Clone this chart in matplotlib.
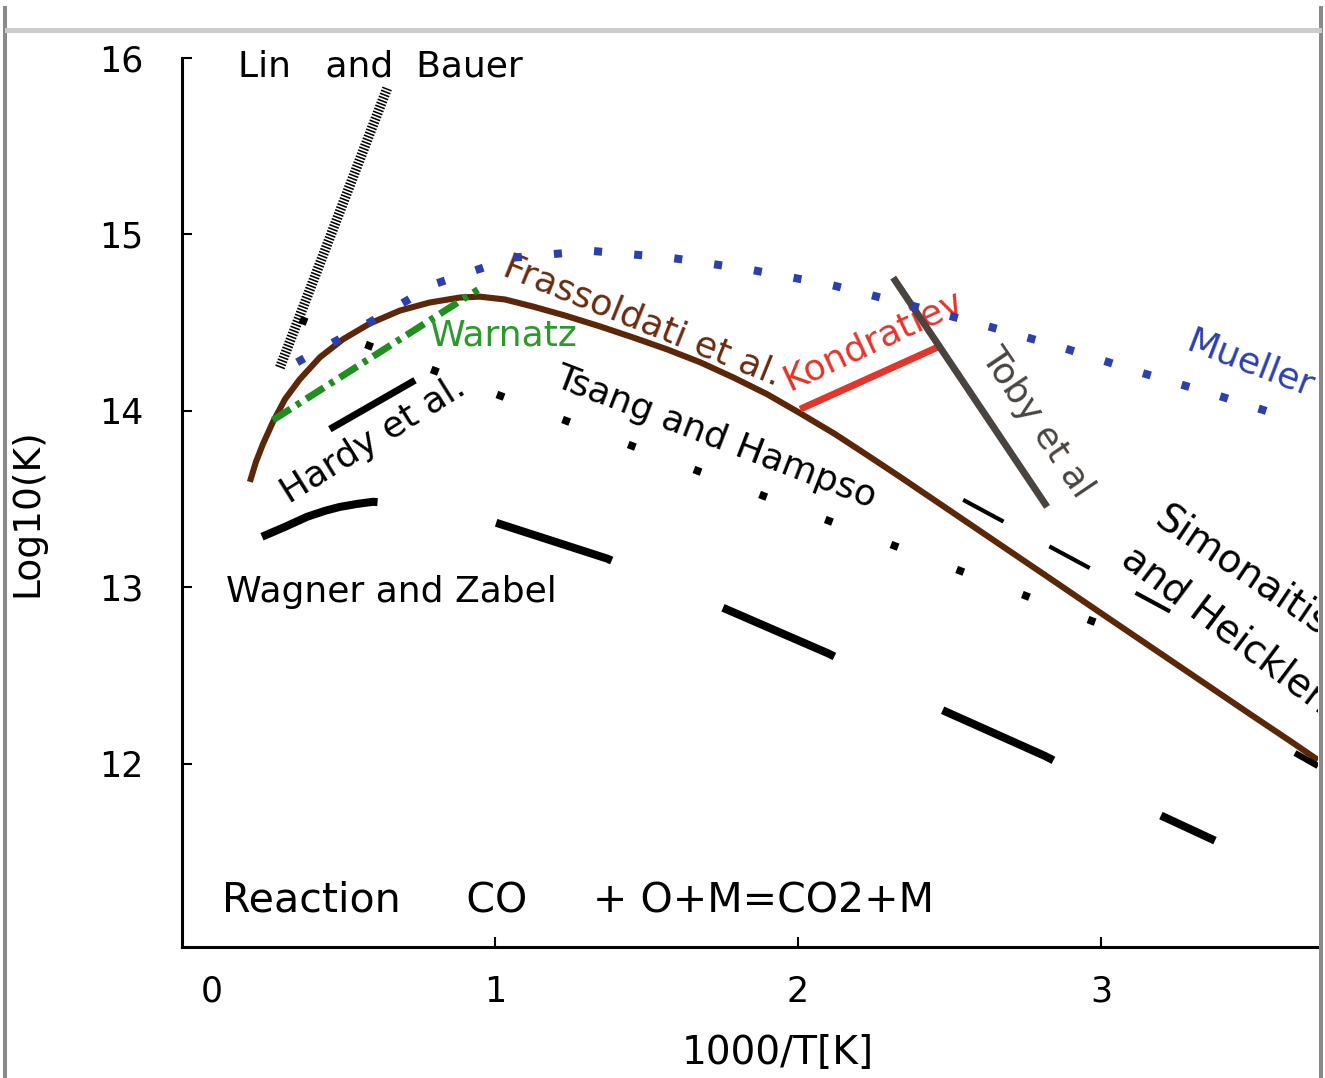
import matplotlib
matplotlib.use("Agg")
import matplotlib.pyplot as plt
from matplotlib.lines import Line2D

plt.rcParams['font.family'] = ['DejaVu Sans']

# Frassoldati et al. (brown curve)
fr_x = [0.191, 0.211, 0.234, 0.267, 0.307, 0.356, 0.422, 0.498, 0.587, 0.686,
        0.785, 0.884, 0.950, 1.033, 1.125, 1.231, 1.347, 1.455, 1.568, 1.677,
        1.785, 1.898, 2.007, 2.122, 2.228, 2.337, 2.502, 2.667, 2.832, 2.997,
        3.162, 3.327, 3.492, 3.624, 3.716]
fr_y = [13.597, 13.710, 13.811, 13.936, 14.066, 14.179, 14.303, 14.405, 14.495, 14.568,
        14.614, 14.642, 14.647, 14.631, 14.591, 14.540, 14.478, 14.416, 14.348, 14.275,
        14.190, 14.094, 13.986, 13.868, 13.749, 13.625, 13.433, 13.241, 13.049, 12.856,
        12.664, 12.472, 12.280, 12.128, 12.020]

# Mueller (blue dotted)
mu_x = [0.347, 0.574, 0.805, 1.059, 1.314, 1.578, 1.842, 2.106, 2.363, 2.617,
        2.871, 3.129, 3.383, 3.640]
mu_y = [14.275, 14.489, 14.721, 14.868, 14.907, 14.868, 14.800, 14.715, 14.602, 14.484,
        14.359, 14.218, 14.088, 13.947]

# Wagner and Zabel (long dashes)
wz_x = [0.231, 0.307, 0.380, 0.439, 0.488, 0.545, 0.597, 0.802, 0.993, 1.370,
        1.743, 2.099, 2.462, 2.815, 3.178, 3.376]
wz_y = [13.286, 13.342, 13.399, 13.433, 13.455, 13.472, 13.484, 13.455, 13.371, 13.162,
        12.890, 12.625, 12.314, 12.043, 11.721, 11.563]

# straight-line data sets
lb_x, lb_y = [0.290, 0.644], [14.245, 15.828]      # Lin and Bauer
ts_x, ts_y = [0.356, 3.172], [14.518, 12.676]      # Tsang and Hampson
wa_x, wa_y = [0.267, 0.944], [13.947, 14.687]      # Warnatz
ha_x, ha_y = [0.455, 0.736], [13.896, 14.173]      # Hardy et al.
sh_x, sh_y = [2.545, 3.228], [13.495, 12.862]      # Simonaitis and Heicklen
sh2_x, sh2_y = [3.640, 3.716], [12.060, 11.986]
tb_x, tb_y = [2.314, 2.822], [14.755, 13.455]      # Toby et al
ko_x, ko_y = [2.007, 2.459], [14.009, 14.359]      # Kondratiev

xtick_pos = [0.066, 1, 2, 3]
xtick_lab = ['0', '1', '2', '3']
ytick_pos = [12, 13, 14, 15, 16]

fig = plt.figure(figsize=(13.25, 10.78), dpi=100)
ax = fig.add_axes([182 / 1325, 1 - 947 / 1078, (1318 - 182) / 1325, (947 - 58) / 1078])
ax.set_xlim(-0.033, 3.716)
ax.set_ylim(10.96, 16.0)

brown = '#5c2608'
ax.plot(fr_x, fr_y, color=brown, lw=4.4, zorder=2, solid_capstyle='butt', solid_joinstyle='round')
ax.plot(lb_x, lb_y, color='black', lw=7.2, ls=(0, (0.16, 0.16)), dash_capstyle='butt', zorder=3)
ax.plot(wa_x, wa_y, color='#1f9020', lw=5, ls=(0, (3, 1, 0.7, 1)), dash_capstyle='butt', zorder=3)
ax.plot(ha_x, ha_y, color='black', lw=5, solid_capstyle='butt', zorder=3)
ax.plot(wz_x, wz_y, color='black', lw=5.8, ls=(0, (15.1, 15.0)), dash_capstyle='butt',
        dash_joinstyle='round', zorder=3)
ax.plot(ts_x, ts_y, color='black', lw=5.5, ls=(0, (1, 8.2)), dash_capstyle='butt', zorder=4)
ax.plot(sh_x, sh_y, color='black', lw=3, ls=(0, (11, 12.5)), dash_capstyle='butt', zorder=3)
ax.plot(sh2_x, sh2_y, color='black', lw=4.5, solid_capstyle='butt', zorder=4)
ax.plot(ko_x, ko_y, color='#e2352b', lw=5, solid_capstyle='butt', zorder=3)
ax.plot(tb_x, tb_y, color='#4a4441', lw=5, solid_capstyle='butt', zorder=4)
ax.plot(mu_x, mu_y, color='#2b3fae', lw=5.8, ls=(0, (1, 4)), dash_capstyle='butt', zorder=5)

# labels on the curves
fs = 26
ax.text(0.152, 15.953, 'Lin   and  Bauer', fontsize=fs, ha='left', va='center')
ax.text(0.785, 14.427, 'Warnatz', fontsize=26, color='#2a9a2a', ha='left', va='center')
ax.text(1.488, 14.512, 'Frassoldati et al.', fontsize=fs, color='#6b2a0e', rotation=-22,
        ha='center', va='center', rotation_mode='anchor')
ax.text(2.248, 14.399, 'Kondratiev', fontsize=fs, color='#e2352b', rotation=25,
        ha='center', va='center', rotation_mode='anchor', zorder=2)
ax.text(0.597, 13.834, 'Hardy et al.', fontsize=fs, rotation=32,
        ha='center', va='center', rotation_mode='anchor')
ax.text(1.729, 13.851, 'Tsang and Hampso', fontsize=fs, rotation=-21,
        ha='center', va='center', rotation_mode='anchor')
ax.text(2.789, 13.936, 'Toby et al', fontsize=fs, color='#4a4441', rotation=-56,
        ha='center', va='center', rotation_mode='anchor')
ax.text(3.492, 14.263, 'Mueller', fontsize=fs, color='#2b3fae', rotation=-21,
        ha='center', va='center', rotation_mode='anchor')
# these two run off the right edge in the original, so they are clipped there too
ax.text(3.170, 13.360, 'Simonaitis', fontsize=28, rotation=-34,
        ha='left', va='baseline', rotation_mode='anchor', clip_on=True)
ax.text(3.060, 13.140, 'and Heicklen', fontsize=28, rotation=-37,
        ha='left', va='baseline', rotation_mode='anchor', clip_on=True)
ax.text(0.112, 12.975, 'Wagner and Zabel', fontsize=fs, ha='left', va='center')
ax.text(0.099, 11.224, 'Reaction     CO     + O+M=CO2+M', fontsize=29.6, ha='left', va='center')

for s in ['top', 'right']:
    ax.spines[s].set_visible(False)
for s in ['left', 'bottom']:
    ax.spines[s].set_linewidth(2.2)

ax.set_xticks(xtick_pos)
ax.set_xticklabels(xtick_lab)
ax.set_yticks(ytick_pos)
ax.tick_params(direction='in', length=7, width=1.5, labelsize=25)
ax.tick_params(axis='x', pad=20)
ax.tick_params(axis='y', pad=28)
ax.xaxis.get_major_ticks()[0].tick1line.set_visible(False)

ax.set_xlabel('1000/T[K]', fontsize=28)
ax.set_ylabel('Log10(K)', fontsize=27)
ax.xaxis.set_label_coords(0.5246, -0.098)
ax.yaxis.set_label_coords(-0.1206, 0.489)

# screenshot frame
fig.add_artist(Line2D([5 / 1325, 5 / 1325], [0, 1 - 8 / 1078], color='#8a8a8a', lw=2.9))
fig.add_artist(Line2D([1321 / 1325, 1321 / 1325], [0, 1 - 8 / 1078], color='#8a8a8a', lw=2.9))
fig.add_artist(Line2D([7 / 1325, 1319 / 1325], [1 - 30 / 1078, 1 - 30 / 1078], color='#cccccc', lw=3.6))

fig.savefig('out.png', dpi=100)
